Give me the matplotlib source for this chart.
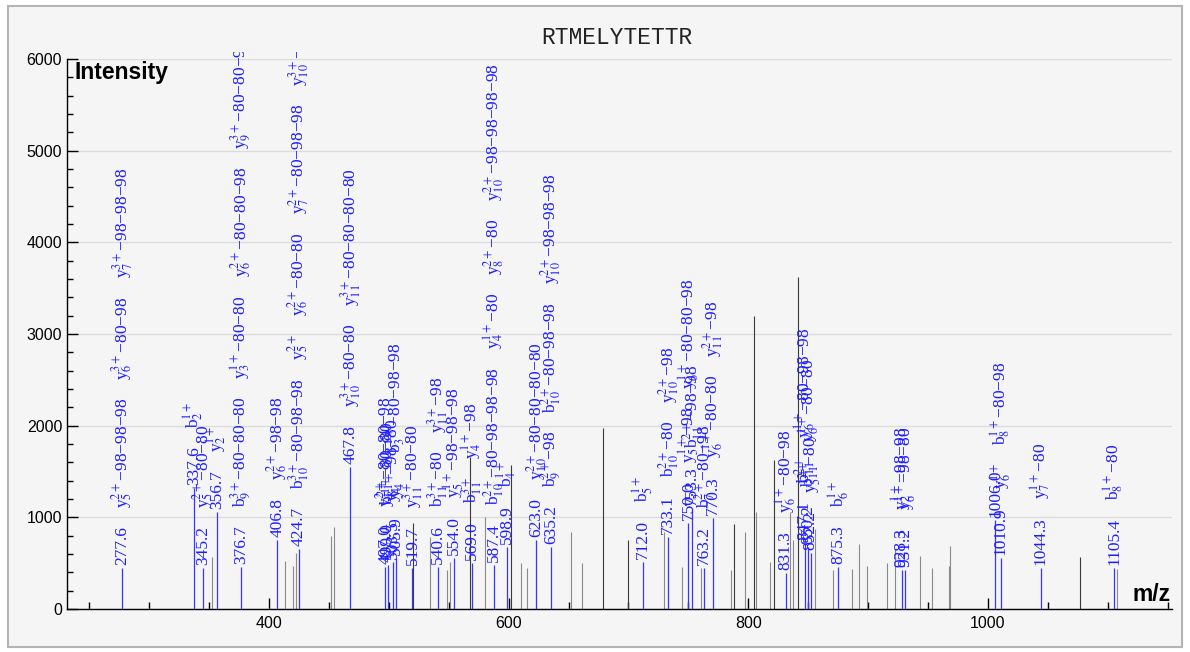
import matplotlib
matplotlib.use('Agg')
import matplotlib.pyplot as plt
from matplotlib.transforms import ScaledTranslation, Bbox, TransformedBbox
from matplotlib.patches import Rectangle
from matplotlib.ticker import MultipleLocator

plt.rcParams['mathtext.fontset'] = 'stix'
plt.rcParams['font.family'] = ['Liberation Sans', 'DejaVu Sans']

title = "RTMELYTETTR"

# annotated (matched) peaks
anno_mz = [277.6, 337.6, 345.2, 356.7, 376.7, 406.8, 424.7, 467.8,
           497.0, 499.0, 503.5, 505.9, 519.7, 540.6, 554.0, 569.0,
           587.4, 598.9, 623.0, 635.2, 712.0, 733.1, 750.0, 753.3,
           763.2, 770.3, 831.3, 847.1, 850.2, 852.2, 875.3, 928.3,
           931.2, 1006.0, 1010.9, 1044.3, 1105.4]
anno_int = [447, 1320, 447, 1058, 460, 753, 655, 1549,
            460, 480, 515, 560, 447, 460, 560, 500,
            480, 680, 750, 680, 513, 785, 940, 1100,
            447, 993, 390, 720, 680, 610, 458, 425,
            425, 970, 556, 447, 447]
anno_labels = [
    [r"y$_{5}^{2+}$−98−98−98", r"y$_{6}^{3+}$−80−98", r"y$_{7}^{3+}$−98−98−98"],
    [r"b$_{2}^{1+}$"],
    [r"y$_{5}^{2+}$−80−80"],
    [r"y$_{2}^{1+}$"],
    [r"b$_{9}^{3+}$−80−80−80", r"y$_{3}^{1+}$−80−80", r"y$_{6}^{2+}$−80−80−98", r"y$_{9}^{3+}$−80−80−98"],
    [r"y$_{6}^{2+}$−98−98"],
    [r"b$_{10}^{3+}$−80−98−98", r"y$_{5}^{2+}$", r"y$_{6}^{2+}$−80−80", r"y$_{7}^{2+}$−80−98−98", r"y$_{10}^{3+}$−98−98"],
    [r"y$_{10}^{3+}$−80−80", r"y$_{11}^{3+}$−80−80−80−80"],
    [r"y$_{4}^{2+}$−80−80−98"],
    [r"b$_{8}^{2+}$−80−80"],
    [r"y$_{4}^{1+}$−98−80"],
    [r"y$_{4}^{1+}$", r"b$_{3}^{1+}$−80−98−98"],
    [r"y$_{11}^{3+}$−80−80"],
    [r"b$_{11}^{3+}$−80", r"y$_{11}^{3+}$−98"],
    [r"y$_{5}^{1+}$−98−98−98"],
    [r"b$_{11}^{3+}$", r"y$_{4}^{1+}$−98"],
    [r"b$_{10}^{2+}$−80−98−98−98", r"y$_{4}^{1+}$−80", r"y$_{8}^{2+}$−80", r"y$_{10}^{2+}$−98−98−98−98"],
    [r"b$_{4}^{1+}$"],
    [r"y$_{10}^{2+}$−80−80−80−80"],
    [r"b$_{9}^{2+}$−98", r"b$_{10}^{2+}$−80−98−98", r"y$_{10}^{2+}$−98−98−98"],
    [r"b$_{5}^{1+}$"],
    [r"b$_{10}^{2+}$−80", r"y$_{10}^{2+}$−98"],
    [r"y$_{5}^{1+}$−98", r"y$_{6}^{1+}$−80−80−98"],
    [r"b$_{11}^{2+}$−98−98"],
    [r"b$_{7}^{2+}$−80−98"],
    [r"y$_{6}^{1+}$−80−80", r"y$_{11}^{2+}$−98"],
    [r"y$_{6}^{1+}$−80−98"],
    [r"b$_{11}^{2+}$", r"y$_{6}^{1+}$−80−98−98"],
    [r"b$_{11}^{2+}$", r"y$_{6}^{1+}$−80−80"],
    [r"y$_{5}^{1+}$−80"],
    [r"b$_{6}^{1+}$"],
    [r"y$_{2}^{1+}$−98−98"],
    [r"y$_{6}^{1+}$−98−80"],
    [],
    [r"y$_{6}^{1+}$", r"b$_{8}^{1+}$−80−98"],
    [r"y$_{7}^{1+}$−80"],
    [r"b$_{8}^{1+}$−80"],
]

# unannotated peaks
gray_mz = [352.7, 413.4, 420.3, 422.5, 451.5, 454.3, 534.4, 548.4, 550.6,
           580.4, 610.2, 615.2, 652.2, 661.6, 729.3, 744.7, 760.5, 785.8,
           796.9, 806.4, 818.4, 834.5, 837.3, 856.0, 870.7, 886.5, 892.7,
           899.1, 915.8, 922.2, 943.0, 953.4, 967.3, 968.7, 1107.9]
gray_int = [570, 525, 470, 615, 800, 900, 790, 425, 515,
            1005, 500, 445, 845, 500, 845, 460, 445, 425,
            835, 1055, 515, 1060, 750, 873, 425, 436, 710,
            473, 505, 660, 578, 445, 470, 690, 433]
dark_mz = [520.5, 567.3, 602.1, 679.1, 699.5, 787.7, 804.4, 821.1, 841.2, 1077.2]
dark_int = [935, 1660, 1570, 1970, 750, 925, 3200, 1630, 3625, 565]

W, H, DPI = 1190, 652, 100
fig = plt.figure(figsize=(W / DPI, H / DPI), dpi=DPI)
fig.patch.set_facecolor('white')
fig.add_artist(Rectangle((8 / W, 1 - 647 / H), (1182 - 8) / W, (647 - 6) / H,
                         transform=fig.transFigure, facecolor='#f5f5f5',
                         edgecolor='#b4b4b4', linewidth=1.5, zorder=-10))

ax = fig.add_axes([67 / W, 43 / H, 1105 / W, 550 / H])
ax.set_facecolor('none')
ax.set_xlim(231.3, 1153.7)
ax.set_ylim(0, 6000)

for s in ['top', 'right']:
    ax.spines[s].set_visible(False)
for s in ['left', 'bottom']:
    ax.spines[s].set_linewidth(1.0)
    ax.spines[s].set_color('black')

ax.xaxis.set_major_locator(MultipleLocator(200))
ax.xaxis.set_minor_locator(MultipleLocator(50))
ax.yaxis.set_major_locator(MultipleLocator(1000))
ax.yaxis.set_minor_locator(MultipleLocator(200))
ax.tick_params(axis='x', which='major', direction='in', length=8, width=1,
               labelsize=11.5, pad=5)
ax.tick_params(axis='x', which='minor', direction='in', length=5, width=1)
ax.tick_params(axis='y', which='major', direction='in', length=8, width=1,
               labelsize=11.5, pad=3.5)
ax.tick_params(axis='y', which='minor', direction='in', length=4.5, width=1)
ax.yaxis.grid(True, which='major', color='#dcdcdc', linewidth=1.0)
ax.set_axisbelow(True)

ax.vlines(gray_mz, 0, gray_int, colors='#8a8a8a', linewidth=0.8, zorder=2)
ax.vlines(dark_mz, 0, dark_int, colors='#3a3a3a', linewidth=0.8, zorder=2)
ax.vlines(anno_mz, 0, anno_int, colors='#3535ff', linewidth=0.9, zorder=3)

renderer = fig.canvas.get_renderer()
clip = TransformedBbox(Bbox([[0, 0], [1, 1.013]]), ax.transAxes)
gap_px = 18
for mz, inten, labs in zip(anno_mz, anno_int, anno_labels):
    off = 3.0
    for s in [f"{mz:.1f}"] + labs:
        tr = ax.transData + ScaledTranslation(0, off / DPI, fig.dpi_scale_trans)
        t = ax.text(mz, inten, s, rotation=90, ha='center', va='bottom',
                    transform=tr, color='#1e1eff', fontsize=12.5,
                    family=['Liberation Serif', 'DejaVu Serif'], zorder=4)
        t.set_clip_path(None)
        t.set_clip_box(clip)
        t.set_clip_on(True)
        ext = t.get_window_extent(renderer)
        off += ext.height + gap_px

ax.text(0.007, 0.996, 'Intensity', transform=ax.transAxes, ha='left', va='top',
        fontsize=16.5, fontweight='bold', color='black', zorder=5)
ax.text(0.999, 0.006, 'm/z', transform=ax.transAxes, ha='right', va='bottom',
        fontsize=16.5, fontweight='bold', color='black', zorder=5)

fig.text(617 / W, 1 - 38 / H, title, family='Liberation Mono', fontsize=16.5,
         ha='center', va='center', color='#222222')

fig.savefig('out.png', dpi=DPI, facecolor=fig.get_facecolor())
